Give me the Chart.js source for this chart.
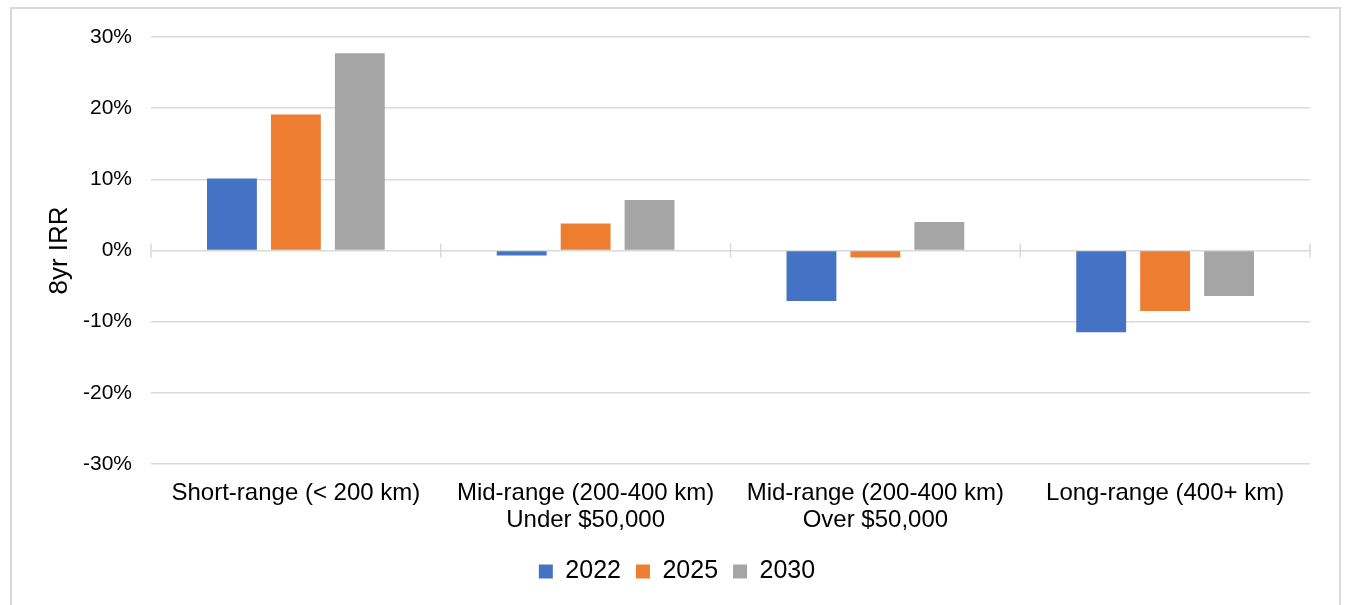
<!DOCTYPE html>
<html>
<head>
<meta charset="utf-8">
<script src="https://cdn.jsdelivr.net/npm/chart.js@4/dist/chart.umd.min.js"></script>
<style>
  html, body { margin: 0; padding: 0; background: #ffffff; }
  #frame {
    position: absolute; left: 10px; top: 7px;
    width: 1327px; height: 700px;
    border: 2px solid #D9D9D9; box-sizing: content-box;
  }
  #wrap { position: absolute; left: 0; top: 0; width: 1347px; height: 605px; }
</style>
</head>
<body>
<div id="frame"></div>
<div id="wrap"><canvas id="chart" width="1347" height="605"></canvas></div>
<script>
// Vehicle segments on the category axis
const categories = [
  'Short-range (< 200 km)',
  ['Mid-range (200-400 km)', 'Under $50,000'],
  ['Mid-range (200-400 km)', 'Over $50,000'],
  'Long-range (400+ km)'
];

// 8-year IRR, percent
const irr2022 = [10.1, -0.7, -7.1, -11.5];
const irr2025 = [19.1, 3.8, -1.0, -8.5];
const irr2030 = [27.7, 7.1, 4.0, -6.4];

const seriesNames = ['2022', '2025', '2030'];
const yTicks = [-30, -20, -10, 0, 10, 20, 30];

const FONT = "'Liberation Sans', Arial, sans-serif";
const GRID = '#D9D9D9';

// Small tick marks across the zero line at category boundaries
const boundaryTicks = {
  id: 'boundaryTicks',
  beforeDatasetsDraw(chart) {
    const { ctx, chartArea, scales } = chart;
    const y0 = scales.y.getPixelForValue(0);
    const n = categories.length;
    const step = (chartArea.right - chartArea.left) / n;
    ctx.save();
    ctx.strokeStyle = GRID;
    ctx.lineWidth = 1.5;
    for (let i = 0; i <= n; i++) {
      const x = chartArea.left + i * step;
      ctx.beginPath();
      ctx.moveTo(x, y0 - 7);
      ctx.lineTo(x, y0 + 7);
      ctx.stroke();
    }
    ctx.restore();
  }
};

new Chart(document.getElementById('chart'), {
  type: 'bar',
  data: {
    labels: categories,
    datasets: [
      { label: seriesNames[0], data: irr2022, backgroundColor: '#4472C4' },
      { label: seriesNames[1], data: irr2025, backgroundColor: '#ED7D31' },
      { label: seriesNames[2], data: irr2030, backgroundColor: '#A5A5A5' }
    ]
  },
  options: {
    responsive: false,
    animation: false,
    devicePixelRatio: 1,
    layout: { padding: { left: 44, right: 37, top: 37, bottom: 11 } },
    datasets: {
      bar: { categoryPercentage: 0.662, barPercentage: 0.78, borderWidth: 0 }
    },
    scales: {
      x: {
        grid: { display: false, drawTicks: false },
        border: { display: false },
        ticks: {
          color: '#000000',
          font: { family: FONT, size: 24, lineHeight: 1.125 },
          padding: 16,
          maxRotation: 0,
          autoSkip: false
        },
        afterFit(scale) { scale.height = 80; }
      },
      y: {
        min: -30,
        max: 30,
        afterBuildTicks(scale) { scale.ticks = yTicks.map(v => ({ value: v })); },
        grid: { color: GRID, lineWidth: 1.5, drawTicks: false },
        border: { display: false },
        ticks: {
          color: '#000000',
          font: { family: FONT, size: 21 },
          padding: 19,
          callback: v => v + '%'
        },
        title: {
          display: true,
          text: '8yr IRR',
          color: '#000000',
          font: { family: FONT, size: 26, lineHeight: 1.2 },
          padding: { top: 0, bottom: 0 }
        },
        afterFit(scale) { scale.width = 107; }
      }
    },
    plugins: {
      legend: {
        position: 'bottom',
        labels: {
          color: '#000000',
          font: { family: FONT, size: 25 },
          boxWidth: 14,
          boxHeight: 14,
          padding: 15
        }
      },
      tooltip: { enabled: false }
    }
  },
  plugins: [boundaryTicks]
});
</script>
</body>
</html>
